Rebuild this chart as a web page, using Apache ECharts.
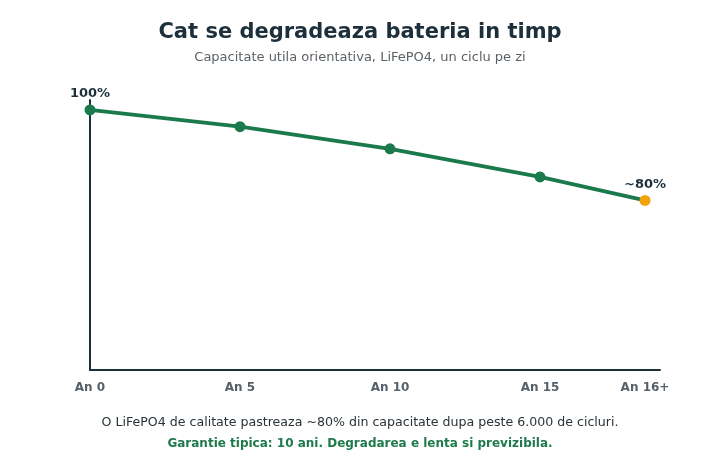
<!DOCTYPE html>
<html><head><meta charset="utf-8">
<script src="https://cdn.jsdelivr.net/npm/echarts@6/dist/echarts.min.js"></script>
<style>html,body{margin:0;padding:0;background:#fff}#c{width:720px;height:460px}</style>
</head><body><div id="c"></div>
<script>
const years = [0, 5, 10, 15, 18.5];
const tickLabels = ['An 0', 'An 5', 'An 10', 'An 15', 'An 16+'];
const capacity = [100, 96.3, 91.4, 85.2, 80];
const pointLabels = ['100%', '', '', '', '~80%'];

const green = '#1b7a4c', orange = '#f0a30a', dark = '#1c2f3b';
const data = years.map((x, i) => ({
  value: [x, capacity[i]],
  itemStyle: { color: i === years.length - 1 ? orange : green },
  label: { show: pointLabels[i] !== '', formatter: pointLabels[i] }
}));
const labelMap = {};
years.forEach((y, i) => labelMap[y] = tickLabels[i]);

const chart = echarts.init(document.getElementById('c'));
chart.setOption({
  animation: false,
  title: [
    { text: 'Cat se degradeaza bateria in timp', left: 'center', top: 17,
      textStyle: { fontFamily: 'DejaVu Sans', fontSize: 21, fontWeight: 'bold', color: dark } },
    { text: 'Capacitate utila orientativa, LiFePO4, un ciclu pe zi', left: 'center', top: 46,
      textStyle: { fontFamily: 'DejaVu Sans', fontSize: 13, fontWeight: 'normal', color: '#5a6268' } },
    { text: 'O LiFePO4 de calitate pastreaza ~80% din capacitate dupa peste 6.000 de cicluri.', left: 'center', top: 411,
      textStyle: { fontFamily: 'DejaVu Sans', fontSize: 12.6, fontWeight: 'normal', color: '#2a3338' } },
    { text: 'Garantie tipica: 10 ani. Degradarea e lenta si previzibila.', left: 'center', top: 433,
      textStyle: { fontFamily: 'DejaVu Sans', fontSize: 12, fontWeight: 'bold', color: '#1e7a4a' } }
  ],
  grid: { left: 90, right: 60, top: 100, bottom: 90, containLabel: false },
  xAxis: {
    type: 'value', min: 0, max: 19,
    splitLine: { show: false },
    axisLine: { show: true, lineStyle: { color: dark, width: 2 } },
    axisTick: { show: false },
    axisLabel: {
      customValues: years,
      formatter: v => labelMap[v] || '',
      color: '#56616a', fontFamily: 'DejaVu Sans', fontSize: 12, fontWeight: 'bold', margin: 12
    }
  },
  yAxis: {
    type: 'value', min: 42.5, max: 102.2,
    splitLine: { show: false },
    axisLine: { show: true, lineStyle: { color: dark, width: 2 } },
    axisTick: { show: false },
    axisLabel: { show: false }
  },
  series: [{
    type: 'line',
    data: data,
    symbol: 'circle', symbolSize: 11,
    lineStyle: { color: green, width: 3.8 },
    itemStyle: { color: green },
    label: { position: 'top', distance: 4, color: dark, fontFamily: 'DejaVu Sans', fontSize: 13, fontWeight: 'bold' },
    z: 3
  }]
});
</script></body></html>
